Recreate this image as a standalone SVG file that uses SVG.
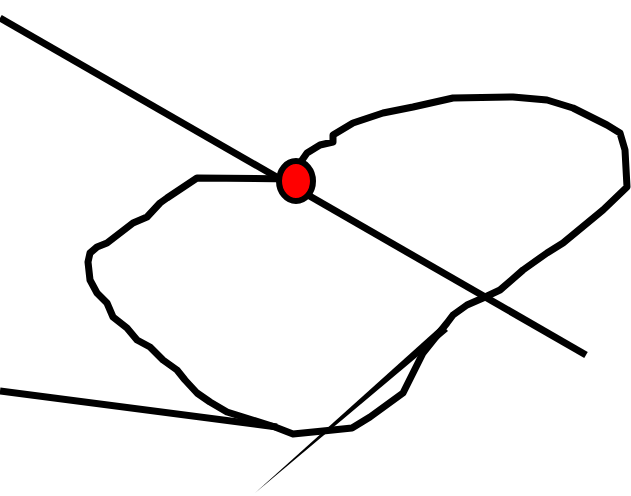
<svg xmlns="http://www.w3.org/2000/svg" width="631" height="496" viewBox="0 0 631 496">
<style>
.s{fill:none;stroke:#000;stroke-width:7;stroke-linejoin:round;stroke-linecap:butt}
</style>
<rect width="631" height="496" fill="#fff"/>
<g id="lines">
<line class="s" x1="0" y1="18" x2="586" y2="355"/>
<line class="s" x1="0" y1="391" x2="277" y2="427"/>
<polygon points="255,493 442,325 448,331" fill="#000"/>
</g>
<g id="loop">
<path class="s" d="M296,179 L197,178 L167,198 L160,203 L147,217 L133,223 L120,233 L107,243 L97,247 L90,253 L88,262 L90,280 L97,293 L107,303 L113,317 L127,328 L137,340 L150,347 L163,360 L177,370 L185,380 L197,393 L210,402 L227,412 L243,417 L275,427 L293,434 L323,431 L352,428 L370,417 L403,393 L413,373 L423,353 L447,323 L453,315 L467,305 L483,298 L500,290 L523,270 L547,253 L563,243 L603,210 L627,187 L625,150 L620,133 L607,125 L593,118 L573,108 L547,100 L513,97 L453,98 L413,107 L383,113 L353,123 L333,135 L333,142 L320,145 L307,153 L300,163"/>
</g>
<g id="point">
<ellipse cx="296" cy="181" rx="17" ry="20" fill="#f00" stroke="#000" stroke-width="6"/>
</g>
</svg>
